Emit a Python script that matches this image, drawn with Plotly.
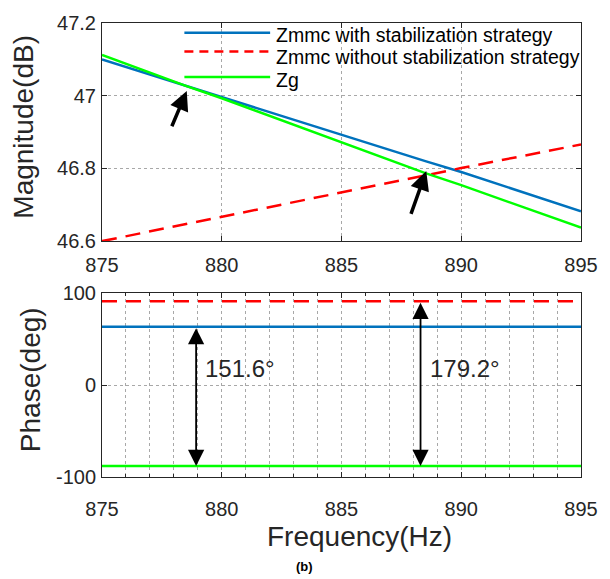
import plotly.graph_objects as go

# Frequency samples (Hz)
freq = [875, 878.5, 880, 885, 888.5, 890, 895]

# Magnitude (dB)
mag_with = [47.100, 47.027, 46.996, 46.893, 46.820, 46.790, 46.682]
mag_without = [46.600, 46.647, 46.668, 46.735, 46.782, 46.801, 46.866]
mag_zg = [47.112, 47.027, 46.993, 46.873, 46.787, 46.754, 46.637]

# Phase (deg), flat over the band
phase_freq = [875, 895]
phase_with = [63.6, 63.6]
phase_without = [91.2, 91.2]
phase_zg = [-88.0, -88.0]

names = ["Zmmc with stabilization strategy",
         "Zmmc without stabilization strategy",
         "Zg"]
colors = ["#0072BD", "#FF0000", "#00FF00"]

# Phase margins marked on the lower plot
margin_freq = [878.93, 888.3]
margin_top = [63.6, 91.2]
margin_label = ["151.6°", "179.2°"]

FONT = "Liberation Sans, Arial, sans-serif"
AX = "#262626"
GRID = "#a8a8a8"

fig = go.Figure()

dash_style = [None, "15px,9px", None]
for ys, c, n, d in zip([mag_with, mag_without, mag_zg], colors, names, dash_style):
    fig.add_trace(go.Scatter(x=freq, y=ys, mode="lines", name=n,
                             line=dict(color=c, width=2.5, dash=d),
                             xaxis="x", yaxis="y", showlegend=False))
for ys, c, n, d in zip([phase_with, phase_without, phase_zg], colors, names, dash_style):
    fig.add_trace(go.Scatter(x=phase_freq, y=ys, mode="lines", name=n,
                             line=dict(color=c, width=2.5, dash=d),
                             xaxis="x2", yaxis="y2", showlegend=False))

axis_common = dict(showline=True, linecolor=AX, linewidth=1, mirror="ticks",
                   ticks="inside", ticklen=5, tickcolor=AX,
                   tickfont=dict(family=FONT, size=20, color=AX),
                   zeroline=False, gridcolor=GRID, griddash="dot", gridwidth=1)

fig.update_layout(
    width=610, height=579,
    margin=dict(l=102, r=26, t=15, b=102),
    plot_bgcolor="white", paper_bgcolor="white",
    showlegend=False,
    xaxis=dict(domain=[0, 1], range=[875, 895], tickvals=[875, 880, 885, 890, 895],
               anchor="y", ticklabelstandoff=6, **axis_common),
    yaxis=dict(domain=[0.5195, 1.0], range=[46.6, 47.2],
               tickvals=[46.6, 46.8, 47.0, 47.2], ticktext=["46.6", "46.8", "47", "47.2"],
               anchor="x", ticklabelstandoff=1, **axis_common),
    xaxis2=dict(domain=[0, 1], range=[875, 895], tickvals=[875, 880, 885, 890, 895],
                anchor="y2", ticklabelstandoff=14,
                minor=dict(dtick=1, tick0=875, showgrid=True, gridcolor=GRID,
                           griddash="dot", ticks="inside", ticklen=3, tickcolor=AX),
                **axis_common),
    yaxis2=dict(domain=[0, 0.4048], range=[-100, 100], tickvals=[-100, 0, 100],
                ticktext=["-100", "0", "100"],
                anchor="x2", ticklabelstandoff=1, **axis_common),
)

# Axis titles
title_font = dict(family=FONT, size=28, color=AX)
fig.add_annotation(xref="paper", yref="paper", x=-0.1639, y=0.7727, text="Magnitude(dB)",
                   textangle=-90, showarrow=False, xanchor="center", yanchor="middle",
                   font=title_font)
fig.add_annotation(xref="paper", yref="paper", x=-0.1494, y=0.2143, text="Phase(deg)",
                   textangle=-90, showarrow=False, xanchor="center", yanchor="middle",
                   font=title_font)
fig.add_annotation(xref="paper", yref="paper", x=0.537, y=-0.132, text="Frequency(Hz)",
                   showarrow=False, xanchor="center", yanchor="middle", font=title_font)

# Legend drawn inside the upper axes, without a box
leg_line_y = [0.955, 0.869, 0.753]
leg_text_y = [0.944, 0.845, 0.741]
for n, c, d, ly, ty in zip(names, colors, ["solid", "dash", "solid"], leg_line_y, leg_text_y):
    fig.add_shape(type="line", xref="x domain", yref="y domain",
                  x0=0.172, x1=0.351, y0=ly, y1=ly,
                  line=dict(color=c, width=2.5, dash=("9px,6px" if d == "dash" else "solid")))
    fig.add_annotation(xref="x domain", yref="y domain", x=0.359, y=ty,
                       text=n, showarrow=False, xanchor="left", yanchor="middle",
                       font=dict(family=FONT, size=19.5, color="black"))

# Intersection pointers in the magnitude plot
for hx, hy, tx, ty in [(878.54, 47.013, 877.89, 46.912), (888.54, 46.793, 887.88, 46.671)]:
    fig.add_annotation(x=hx, y=hy, ax=tx, ay=ty, xref="x", yref="y", axref="x", ayref="y",
                       showarrow=True, arrowhead=2, arrowsize=1.1, arrowwidth=3.5,
                       arrowcolor="black", text="")

# Double-headed arrows spanning the phase differences
for fx, top, lab in zip(margin_freq, margin_top, margin_label):
    fig.add_annotation(x=fx, y=phase_zg[0], ax=fx, ay=top, xref="x2", yref="y2",
                       axref="x2", ayref="y2", showarrow=True, text="",
                       arrowhead=2, arrowsize=1.8, arrowwidth=1.8, arrowcolor="black",
                       arrowside="end+start", startarrowhead=2, startarrowsize=1.8)
    fig.add_annotation(x=fx + 0.3, y=17.7, xref="x2", yref="y2", text=lab,
                       showarrow=False, xanchor="left", yanchor="middle",
                       font=dict(family=FONT, size=24, color=AX))

fig.add_annotation(xref="paper", yref="paper", x=0.423, y=-0.198, text="<b>(b)</b>",
                   showarrow=False, xanchor="center", yanchor="middle",
                   font=dict(family=FONT, size=13, color="black"))

fig.write_html("out.html")
